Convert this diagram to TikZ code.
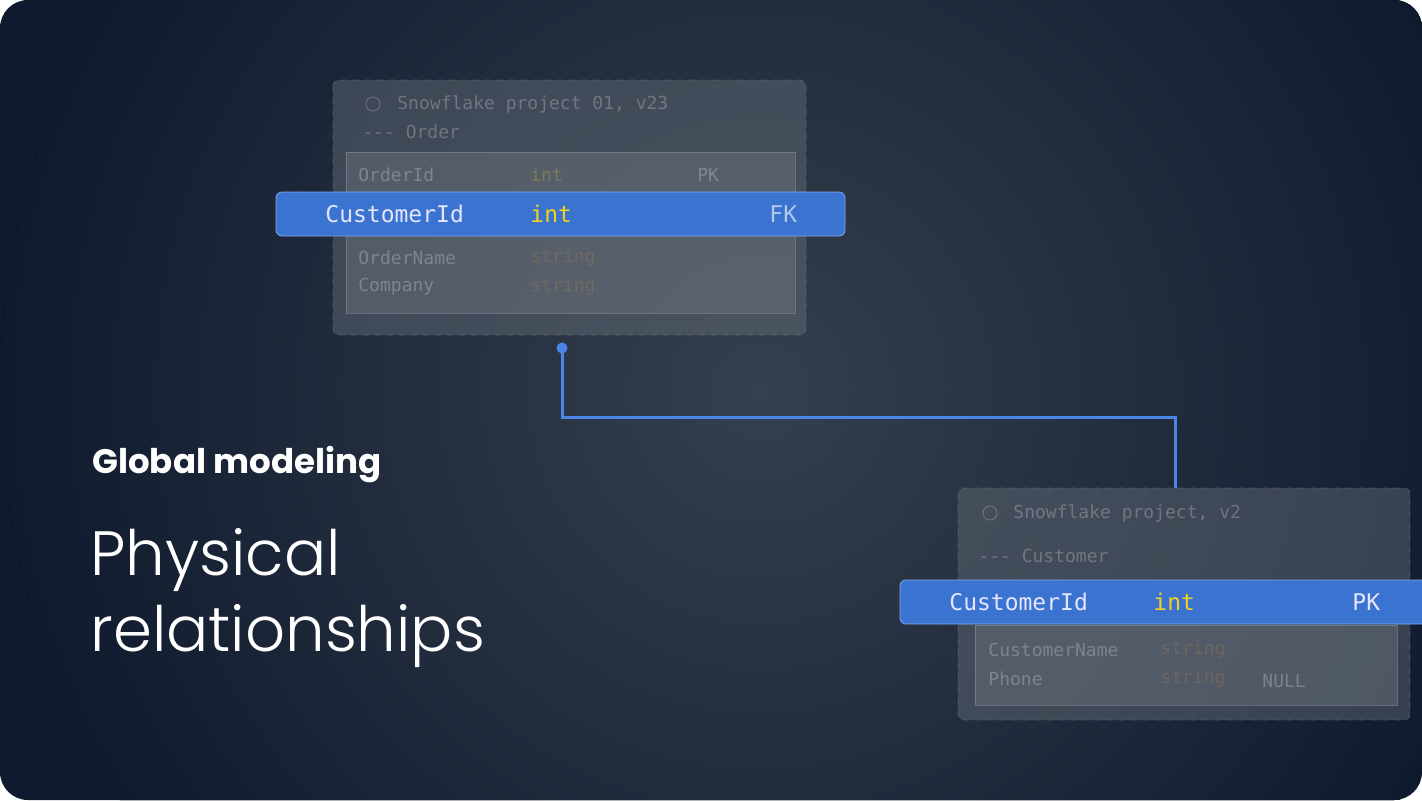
\documentclass[tikz,border=0pt]{standalone}
\usepackage{fontspec}
\setmainfont{Poppins}
\newfontfamily\thinfont{Poppins}[UprightFont=* Light]
\setmonofont{DejaVu Sans Mono}
\usetikzlibrary{positioning}
\definecolor{bgnavy}{HTML}{0F1A2E}
\definecolor{glow}{HTML}{353F4D}
\definecolor{rowblue}{HTML}{3B74D0}
\definecolor{linkblue}{HTML}{4A86E8}
\definecolor{typeyel}{HTML}{F5D020}
\definecolor{typeorg}{HTML}{C08850}
\tikzset{
  tablebox/.style={draw=white!40!glow,dashed,fill=white!25!glow,fill opacity=.45,draw opacity=.4,rounded corners=3pt},
  innerbox/.style={draw=white!50!glow,fill=white!30!glow,fill opacity=.4,draw opacity=.45},
  blurtext/.style={font=\ttfamily\small,text=white,text opacity=.25,anchor=west,inner sep=0pt},
  rowbar/.style={fill=rowblue,draw=linkblue!70!white,rounded corners=3pt},
  rowtext/.style={font=\ttfamily\fontsize{11.5}{14}\selectfont,text=white!90!blue,anchor=west,inner sep=0pt},
}
\begin{document}
\begin{tikzpicture}[x=0.5pt,y=-0.5pt]
\fill[bgnavy,rounded corners=14pt] (0,0) rectangle (1422,800);
\begin{scope}
\clip[rounded corners=14pt] (0,0) rectangle (1422,800);
\fill[inner color=glow,outer color=bgnavy] (760,390) circle (760);
\end{scope}
\useasboundingbox (0,0) rectangle (1422,800);
% order table
\draw[tablebox] (333,80) rectangle (806,335);
\draw[innerbox] (346,152) rectangle (795,313);
\node[blurtext] (ordhead) at (397,104) {Snowflake project 01, v23};
\draw[white,opacity=.25] (373,104) circle (7);
\node[blurtext] (ordname) at (362,132) {--- Order};
\node[blurtext] (ordid) at (358,175) {OrderId};
\node[blurtext,text=typeyel] (ordidt) at (530,175) {int};
\node[blurtext] (ordidk) at (697,175) {PK};
\node[blurtext] (ordon) at (358,258) {OrderName};
\node[blurtext,text=typeorg] (ordont) at (530,258) {string};
\node[blurtext] (ordco) at (358,287) {Company};
\node[blurtext,text=typeorg] (ordcot) at (530,287) {string};
\draw[rowbar] (276,192) rectangle (845,236);
\node[rowtext] (ordcust) at (325,214) {CustomerId};
\node[rowtext,text=typeyel] (ordcustt) at (530,214) {int};
\node[rowtext,text=white!60!rowblue] (ordcustk) at (769,214) {FK};
% customer table
\draw[tablebox] (958,488) rectangle (1410,720);
\draw[innerbox] (975,625) rectangle (1397,705);
\node[blurtext] (cushead) at (1013,513) {Snowflake project, v2};
\draw[white,opacity=.25] (990,513) circle (7);
\node[blurtext] (cusname) at (978,556) {--- Customer};
\node[blurtext] (cuscn) at (988,650) {CustomerName};
\node[blurtext,text=typeorg] (cuscnt) at (1160,650) {string};
\node[blurtext] (cusph) at (988,679) {Phone};
\node[blurtext,text=typeorg] (cuspht) at (1160,679) {string};
\node[blurtext] (cusphn) at (1262,681) {NULL};
\draw[rowbar] (900,580) rectangle (1440,624);
\node[rowtext] (cusid) at (949,602) {CustomerId};
\node[rowtext,text=typeyel] (cusidt) at (1153,602) {int};
\node[rowtext] (cusidk) at (1352,602) {PK};
% link
\coordinate (linkstart) at (562,348);
\coordinate (linkend) at (1175,488);
\fill[linkblue] (linkstart) circle (5.5);
\draw[linkblue,line width=1.5pt] (linkstart) |- (1175,417) -- (linkend);
% captions
\node[font=\bfseries\fontsize{17}{20}\selectfont,text=white,anchor=west,inner sep=0pt] (gm) at (92,465) {Global modeling};
\node[font=\thinfont\fontsize{31.3}{36}\selectfont,text=white,anchor=west,inner sep=0pt] (phys) at (90,560) {Physical};
\node[font=\thinfont\fontsize{31.3}{36}\selectfont,text=white,anchor=west,inner sep=0pt] (rel) at (90,636) {relationships};
\end{tikzpicture}
\end{document}
